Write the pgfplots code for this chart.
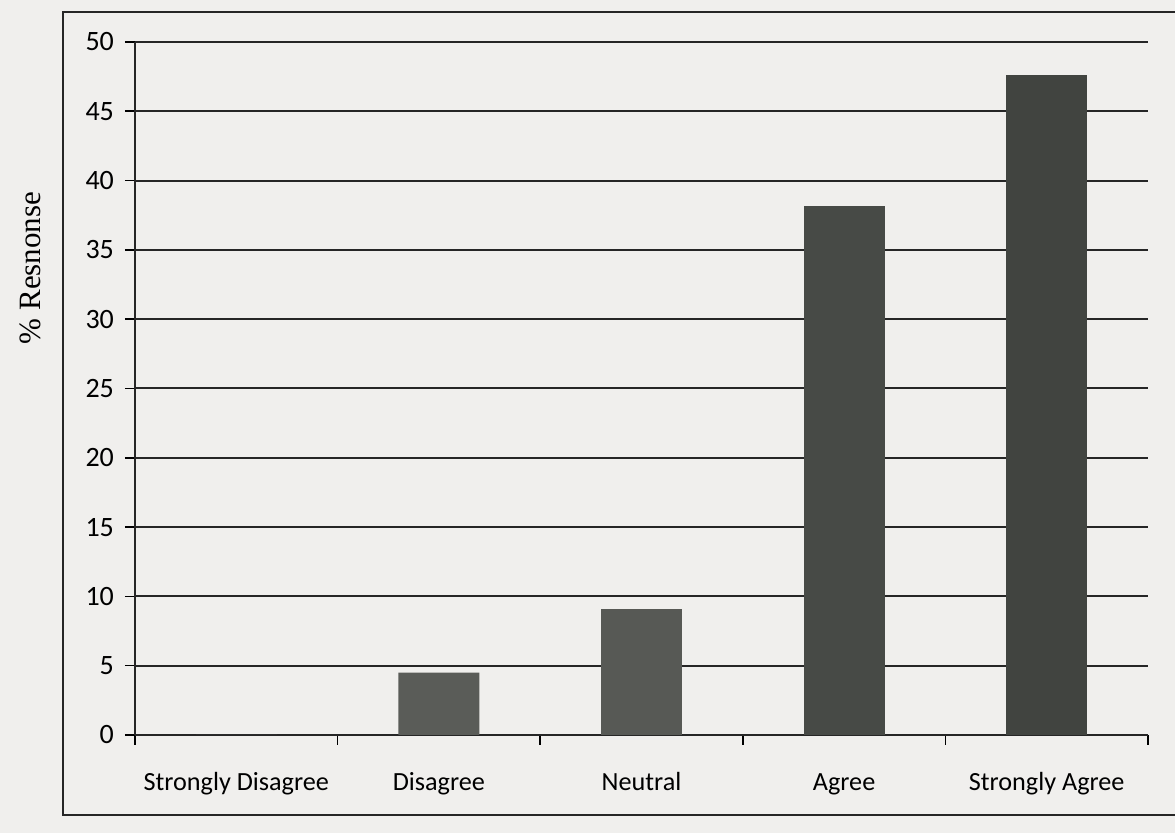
\documentclass[border=0pt]{standalone}
\usepackage{pgfplots}
\pgfplotsset{compat=1.18}
\usepackage{fontspec}
\setmainfont{Carlito}
\newfontfamily\seriffont{Liberation Serif}
\definecolor{paper}{HTML}{F0EFED}
\definecolor{barA}{HTML}{5A5C58}
\definecolor{barB}{HTML}{575955}
\definecolor{barC}{HTML}{474A46}
\definecolor{barD}{HTML}{414440}
\begin{document}
\begin{tikzpicture}
\useasboundingbox (0,0) rectangle (587.5pt,416.5pt);
\fill[paper] (0,0) rectangle (587.5pt,416.5pt);
\draw[line width=0.9pt, black!85] (590pt,410.5pt) -- (31.5pt,410.5pt) -- (31.5pt,9pt) -- (590pt,9pt);
\begin{axis}[
  at={(67.5pt,49pt)}, anchor=south west,
  scale only axis,
  width=506.5pt, height=346.5pt,
  xmin=-0.5, xmax=4.5, ymin=0, ymax=50,
  axis x line*=bottom, axis y line*=left,
  axis line style={line width=0.9pt, black!85},
  ytick={0,5,...,50},
  ymajorgrids,
  grid style={line width=1pt, black!85},
  xtick={-0.5,0.5,...,4.5},
  xticklabels={},
  extra x ticks={0,1,2,3,4},
  extra x tick labels={Strongly Disagree,Disagree,Neutral,Agree,Strongly Agree},
  extra x tick style={major tick length=0pt, xticklabel style={font=\fontsize{13.1}{15}\selectfont, text height=9pt, text depth=3pt, yshift=-15pt}},
  tick align=outside,
  major tick length=5pt,
  tick style={line width=0.8pt, black},
  yticklabel style={font=\fontsize{14}{16}\selectfont, xshift=-2pt},
  /pgf/number format/assume math mode=true,
  ylabel={\% Resnonse},
  every axis y label/.style={at={(axis description cs:-0.1037,0.674)}, rotate=90, anchor=center, font=\seriffont\fontsize{15.5}{18}\selectfont},
  ybar, bar width=40.5pt, bar shift=0pt,
]
\addplot[fill=barA, draw=none] coordinates {(0,0) (1,4.5)};
\addplot[fill=barB, draw=none] coordinates {(2,9.1)};
\addplot[fill=barC, draw=none] coordinates {(3,38.2)};
\addplot[fill=barD, draw=none] coordinates {(4,47.6)};
\end{axis}
\end{tikzpicture}
\end{document}
